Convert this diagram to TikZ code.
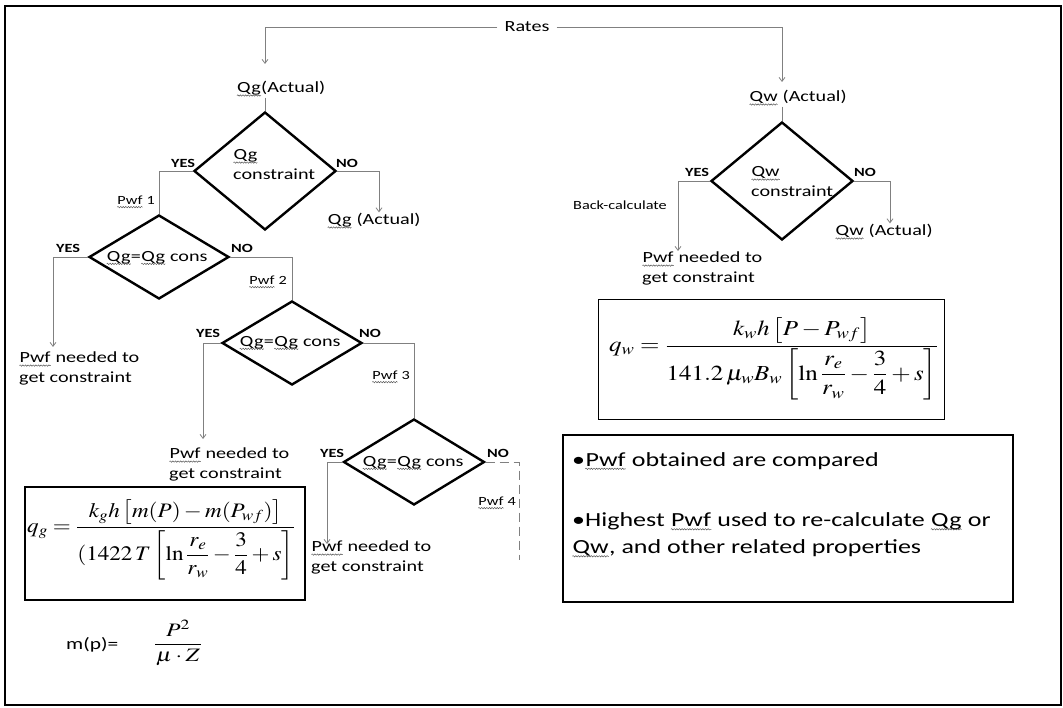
\documentclass[tikz,border=0pt]{standalone}
\usepackage{amsmath}
\usepackage{mathptmx}
\usepackage[no-math]{fontspec}
\setmainfont{Carlito}[FakeStretch=1.3]
\usepackage{graphicx}
\usetikzlibrary{shapes.geometric,arrows.meta,decorations.pathmorphing}
\newcommand{\sq}[1]{\tikz[baseline=0pt,x=1pt,y=1pt]{\node[inner sep=0pt, anchor=base west] (sqw) at (0,0) {#1};\draw[black!70, line width=0.45pt, decorate, decoration={snake, amplitude=0.7pt, segment length=2.6pt}] ([yshift=-2.6pt]sqw.base west) -- ([yshift=-2.6pt]sqw.base east);}}
\newcommand{\eqfont}{\fontsize{21}{25}\selectfont}
\tikzset{
  lbl/.style={inner sep=1pt, font=\fontsize{15.5}{20}\selectfont},
  smalllbl/.style={inner sep=1pt, font=\fontsize{12.5}{15}\selectfont},
  yn/.style={inner sep=1pt, font=\fontsize{12.5}{15}\selectfont\bfseries},
  dia/.style={diamond, draw, line width=2.4pt, inner sep=0pt, aspect=1},
  conn/.style={draw=black!50, line width=0.8pt},
  arr/.style={-{Straight Barb[length=4pt,width=6pt]}},
  frame/.style={draw, line width=1pt, inner sep=0pt},
}
\begin{document}
\begin{tikzpicture}[x=1pt,y=-1pt]
\useasboundingbox (0,0) rectangle (1063,708);
\draw[line width=2.5pt] (5,6) rectangle (1061,705);

% ---------- top ----------
\node[lbl, inner sep=7pt] (rates) at (527,27) {Rates};

% ---------- left chain ----------
\node[lbl] (qga) at (281,89) {\sq{Qg}(Actual)};
\node[dia, minimum width=142pt, minimum height=118pt] (d1) at (265,171) {};
\node[lbl, align=left, anchor=west] (t1) at (232,165) {\sq{Qg}\\constraint};
\node[yn] (y1) at (183,163) {YES};
\node[yn] (n1) at (347,163) {NO};
\node[lbl] (qga2) at (374,221) {\sq{Qg} (Actual)};
\node[smalllbl, anchor=east] (p1) at (156,202) {\sq{Pwf} 1};

\node[dia, minimum width=140pt, minimum height=84pt] (d2) at (159,257) {};
\node[lbl] (t2) at (157,258) {\sq{Qg}=\sq{Qg} cons};
\node[yn] (y2) at (68,248) {YES};
\node[yn] (n2) at (242,248) {NO};
\node[lbl, align=left, anchor=north west] (pn1) at (18,351) {\sq{Pwf} needed to\\get constraint};
\node[smalllbl, anchor=east] (p2) at (288,282) {\sq{Pwf} 2};

\node[dia, minimum width=140pt, minimum height=84pt] (d3) at (292,343) {};
\node[lbl] (t3) at (290,343) {\sq{Qg}=\sq{Qg} cons};
\node[yn] (y3) at (208,333) {YES};
\node[yn] (n3) at (370,333) {NO};
\node[lbl, align=left, anchor=north west] (pn2) at (168,447) {\sq{Pwf} needed to\\get constraint};
\node[smalllbl, anchor=east] (p3) at (411,377) {\sq{Pwf} 3};

\node[dia, minimum width=141pt, minimum height=86pt] (d4) at (414,462) {};
\node[lbl] (t4) at (413,463) {\sq{Qg}=\sq{Qg} cons};
\node[yn] (y4) at (332,453) {YES};
\node[yn] (n4) at (498,453) {NO};
\node[lbl, align=left, anchor=north west] (pn3) at (310,540) {\sq{Pwf} needed to\\get constraint};
\node[smalllbl, anchor=east] (p4) at (517,503) {\sq{Pwf} 4};

% ---------- right chain ----------
\node[lbl] (qwa) at (798,98) {\sq{Qw} (Actual)};
\node[dia, minimum width=142pt, minimum height=118pt] (d5) at (782,181) {};
\node[lbl, align=left, anchor=west] (t5) at (750,182) {\sq{Qw}\\constraint};
\node[yn] (y5) at (697,172) {YES};
\node[yn] (n5) at (865,172) {NO};
\node[smalllbl, anchor=east] (bc) at (668,205) {Back-calculate};
\node[lbl] (qwa2) at (884,232) {\sq{Qw} (Actual)};
\node[lbl, align=left, anchor=north west] (pn4) at (641,251) {\sq{Pwf} needed to\\get constraint};

% ---------- formula boxes ----------
\node[frame, minimum width=346pt, minimum height=120pt] (qwbox) at (771,360) {};
\node[anchor=west, inner sep=0pt] (qwf) at (609,359) {\eqfont\scalebox{1.19}[1.02]{$\displaystyle q_w=\frac{k_w h\left[P-P_{wf}\right]}{141.2\,\mu_w B_w\left[\ln\dfrac{r_e}{r_w}-\dfrac{3}{4}+s\right]}$}};

\node[frame, line width=1.3pt, minimum width=280pt, minimum height=113pt] (qgbox) at (165,543.5) {};
\node[anchor=west, inner sep=0pt] (qgf) at (27,540) {\eqfont\scalebox{1.1}[0.98]{$\displaystyle q_g=\frac{k_g h\left[m(P)-m(P_{wf})\right]}{(1422\,T\left[\ln\dfrac{r_e}{r_w}-\dfrac{3}{4}+s\right]}$}};

\node[inner sep=0pt, font=\fontsize{16.5}{20}\selectfont, anchor=west] (mp) at (66,645) {m(p)=};
\node[inner sep=0pt] (mpf) at (178,643) {\fontsize{19}{23}\selectfont\scalebox{1.25}[1]{$\dfrac{\;\;P^2\;\;}{\mu\cdot Z}$}};

% ---------- bullet box ----------
\node[frame, line width=1.2pt, minimum width=450pt, minimum height=167pt] (bbox) at (788,518.5) {};
\node[inner sep=0pt, anchor=west, font=\fontsize{20}{26}\selectfont] (b1) at (572,461) {•\sq{Pwf} obtained are compared};
\node[inner sep=0pt, anchor=west, align=left, font=\fontsize{20}{27}\selectfont] (b2) at (572,535) {•Highest \sq{Pwf} used to re-calculate \sq{Qg} or\\\sq{Qw}, and other related properties};

% ---------- connectors ----------
\coordinate (a1) at (265,64);
\coordinate (a6) at (782,82);
\coordinate (e4) at (519,560);
\draw[conn,arr] (rates.west) -| (a1);
\draw[conn,arr] (rates.east) -| (a6);
\draw[conn] (d1.north |- qga.south) -- (d1.north);
\draw[conn] (d5.north |- qwa.south) -- (d5.north);

\draw[conn,arr] (d1.east) -| ([xshift=5pt]qga2.north);
\draw[conn] (d1.west) -| (d2.north);
\draw[conn,arr] (d2.west) -| ([xshift=35pt,yshift=4pt]pn1.north west);
\draw[conn] (d2.east) -| (d3.north);
\draw[conn,arr] (d3.west) -| ([xshift=35pt,yshift=8pt]pn2.north west);
\draw[conn] (d3.east) -| (d4.north);
\draw[conn,arr] (d4.west) -| ([xshift=17pt,yshift=-4pt]pn3.north west);
\draw[conn,dash pattern=on 9pt off 5pt] (d4.east) -| (e4);

\draw[conn,arr] (d5.west) -| ([xshift=37pt]pn4.north west);
\draw[conn,arr] (d5.east) -| ([xshift=6pt]qwa2.north);
\end{tikzpicture}
\end{document}
